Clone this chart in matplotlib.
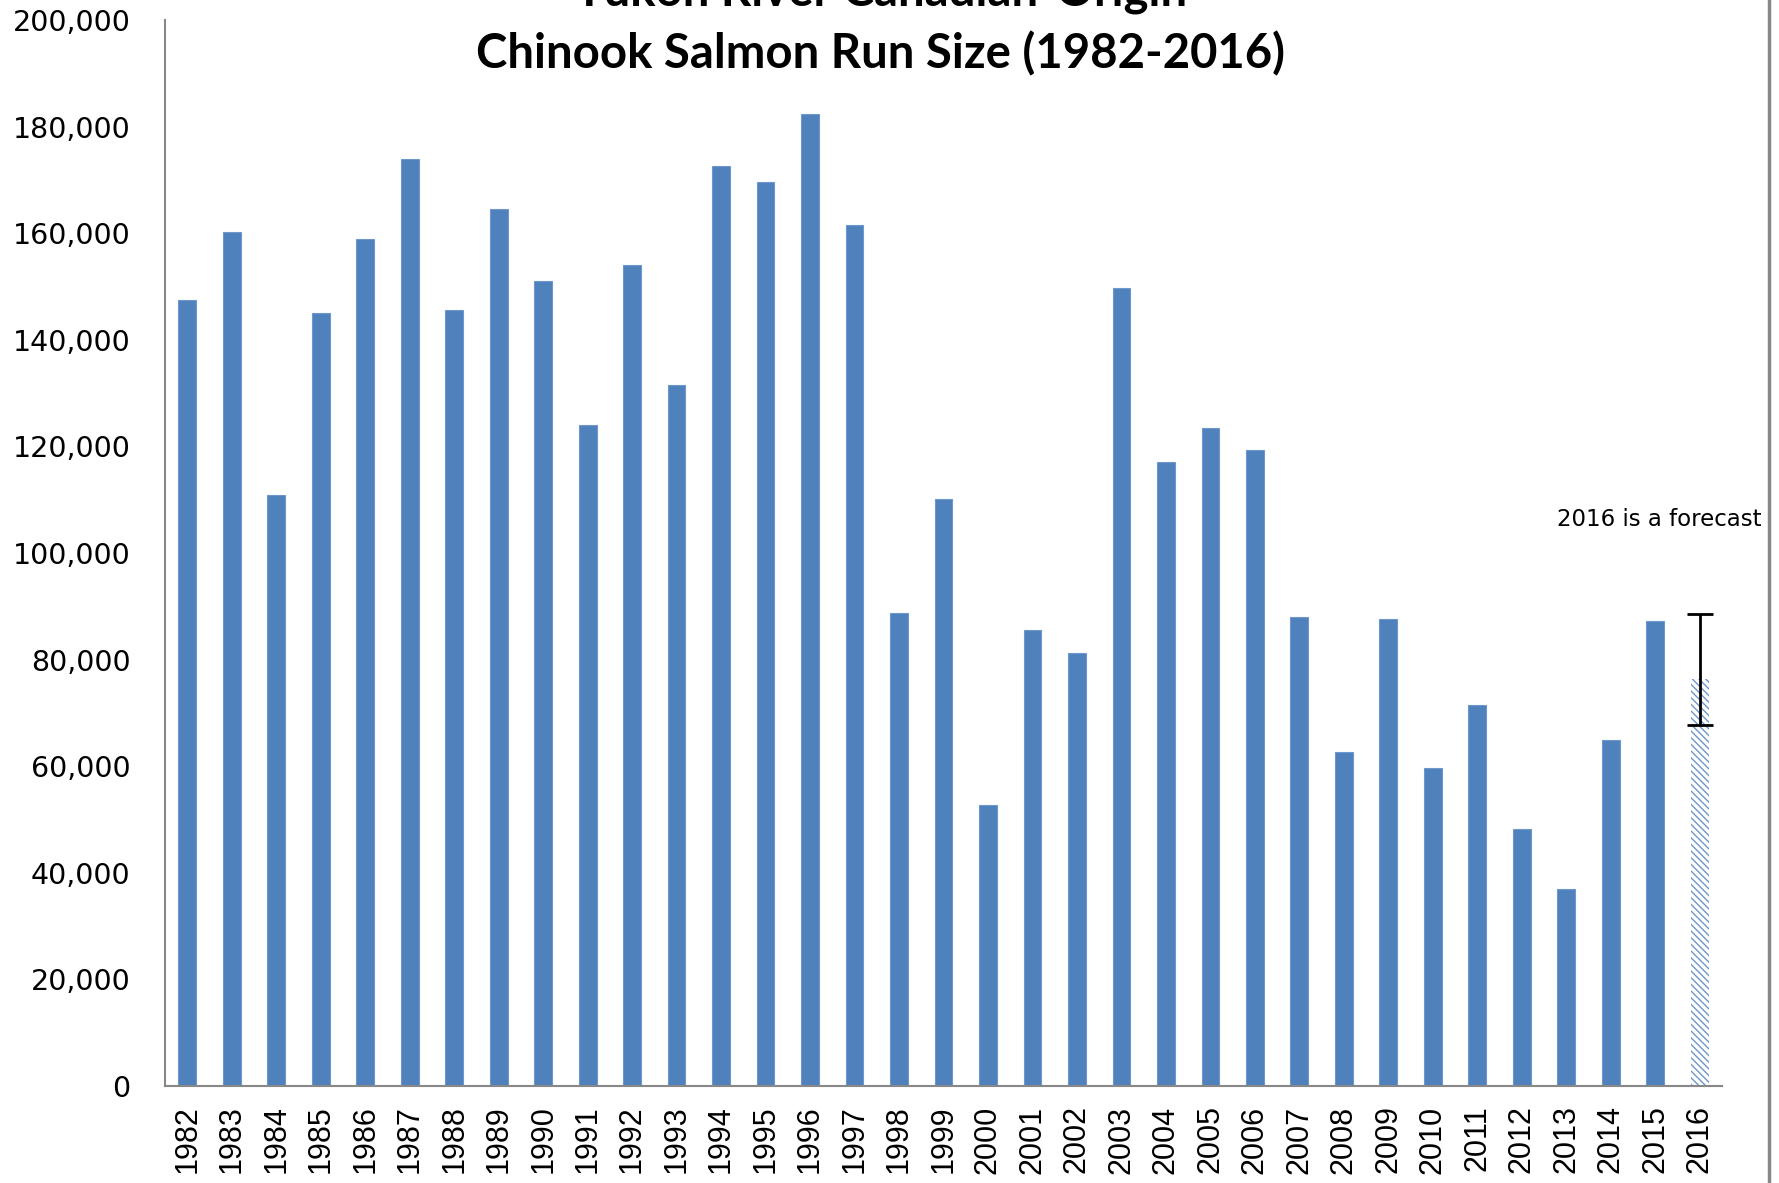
import matplotlib
matplotlib.use("Agg")
import matplotlib.pyplot as plt
from matplotlib.lines import Line2D
from matplotlib.ticker import FuncFormatter
import numpy as np

years = [str(y) for y in range(1982, 2017)]
run_size = [147400, 160200, 110900, 145100, 158900, 174000, 145500, 164500,
            151100, 124000, 154000, 131500, 172600, 169600, 182300, 161500,
            88700, 110200, 52800, 85500, 81300, 149800, 117000, 123400,
            119400, 87900, 62600, 87700, 59600, 71500, 48300, 37000,
            64900, 87200, 76400]
forecast_low = 67700
forecast_high = 88500
yticks = list(range(0, 200001, 20000))

W, H = 1779, 1183
fig = plt.figure(figsize=(W / 100, H / 100), dpi=100)
ax = fig.add_axes([165 / W, 1 - 1086 / H, (1722 - 165) / W, (1086 - 20) / H])

blue = "#4F81BD"
x = np.arange(len(years))
ax.bar(x[:-1], run_size[:-1], width=0.4, color=blue, edgecolor="#6E97CB", linewidth=0.8)
ax.bar(x[-1], run_size[-1], width=0.4, color="white", edgecolor="#6E97CB",
       hatch="\\" * 5, linewidth=0)
fc = run_size[-1]
ax.errorbar(x[-1], fc, yerr=[[fc - forecast_low], [forecast_high - fc]],
            fmt="none", ecolor="black", elinewidth=2, capsize=9.5, capthick=2)

ax.set_xlim(-0.5, len(years) - 0.5)
ax.set_ylim(0, 200000)
ax.set_yticks(yticks)
ax.yaxis.set_major_formatter(FuncFormatter(lambda v, p: f"{int(v):,}"))
ax.set_xticks(x)
ax.set_xticklabels(years, rotation=90, fontfamily="Liberation Sans", fontsize=22)
for lab in ax.get_yticklabels():
    lab.set_fontfamily("DejaVu Sans")
    lab.set_fontsize(20.5)
ax.tick_params(axis="y", length=0, pad=25)
ax.tick_params(axis="x", length=0, pad=14)
for s in ["top", "right"]:
    ax.spines[s].set_visible(False)
for s in ["left", "bottom"]:
    ax.spines[s].set_color("#888888")
    ax.spines[s].set_linewidth(1.5)

fig.text(880 / W, 1 - 6 / H, "Yukon River Canadian-Origin", ha="center", va="baseline",
         fontfamily="Lato", fontweight="bold", fontsize=34)
fig.text(880 / W, 1 - 68 / H, "Chinook Salmon Run Size (1982-2016)", ha="center", va="baseline",
         fontfamily="Lato", fontweight="bold", fontsize=34)
fig.text(1557 / W, 1 - 520 / H, "2016 is a forecast", ha="left", va="center",
         fontfamily="DejaVu Sans", fontsize=16.5)

fig.add_artist(Line2D([1769 / W, 1769 / W], [0, 1], color="#888888", lw=2.5,
                      transform=fig.transFigure))

fig.savefig("out.png", dpi=100)
